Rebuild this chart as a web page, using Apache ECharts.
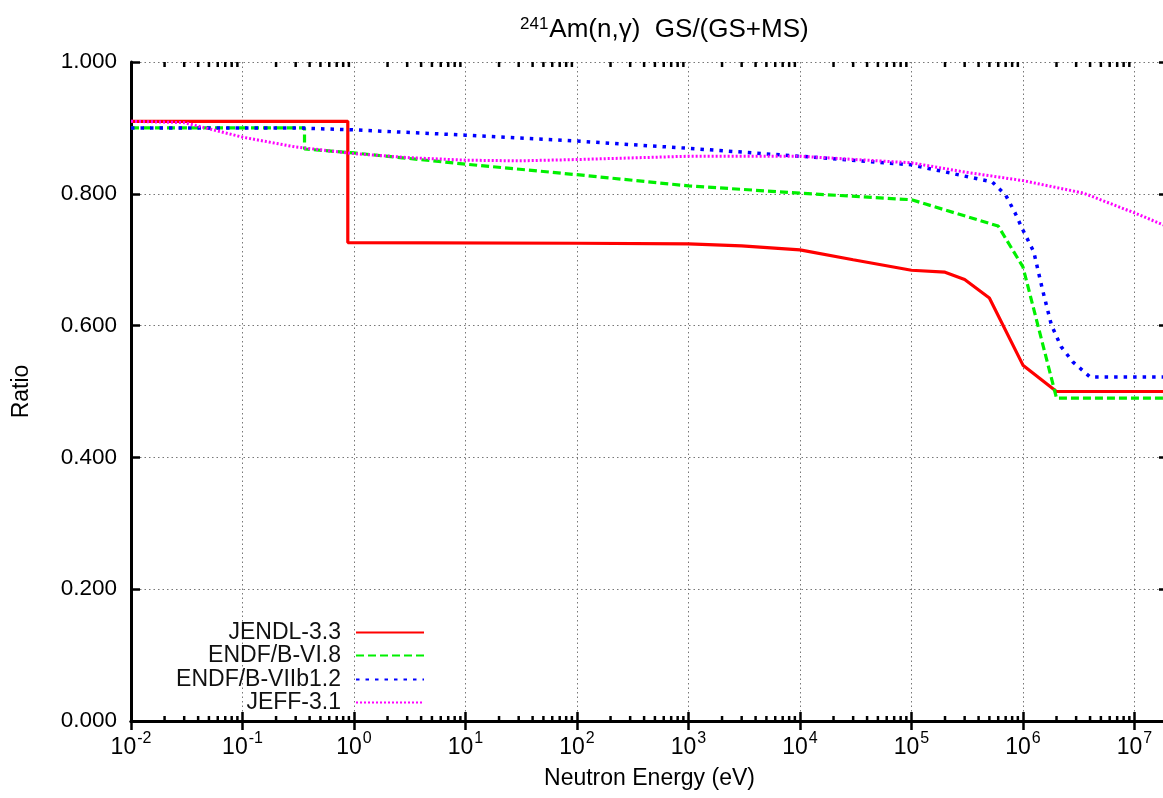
<!DOCTYPE html>
<html>
<head>
<meta charset="utf-8">
<script src="https://cdn.jsdelivr.net/npm/echarts@6.0.0/dist/echarts.min.js"></script>
<style>
html, body { margin: 0; padding: 0; overflow: hidden; background: #fff; }
#chart { width: 1170px; height: 798px; }
</style>
</head>
<body>
<div id="chart"></div>
<script>
// ---- Data ----
const seriesNames = ['JENDL-3.3', 'ENDF/B-VI.8', 'ENDF/B-VIIb1.2', 'JEFF-3.1'];

const jendlE = [0.01, 0.88, 0.88, 100, 1000, 3000, 1e4, 3e4, 1e5, 2e5, 3e5, 5e5, 1e6, 2e6, 2e7];
const jendlR = [0.910, 0.910, 0.726, 0.725, 0.724, 0.721, 0.715, 0.700, 0.684, 0.681, 0.670, 0.642, 0.540, 0.500, 0.500];

const endf6E = [0.01, 0.36, 0.36, 1, 10, 100, 1000, 1e4, 1e5, 6e5, 1e6, 2e6, 2e7];
const endf6R = [0.900, 0.900, 0.868, 0.862, 0.845, 0.829, 0.812, 0.801, 0.791, 0.751, 0.689, 0.490, 0.490];

const endf7E = [0.01, 0.3, 1, 10, 100, 1000, 1e4, 1e5, 5.3e5, 7e5, 8.5e5, 1e6, 1.25e6, 1.5e6, 1.8e6, 2.2e6, 2.8e6, 4e6, 2e7];
const endf7R = [0.900, 0.900, 0.897, 0.889, 0.880, 0.869, 0.857, 0.844, 0.818, 0.798, 0.771, 0.745, 0.712, 0.654, 0.601, 0.568, 0.545, 0.522, 0.522];

const jeffE = [0.01, 0.03, 0.1, 0.3, 1, 3, 10, 30, 100, 1000, 1e4, 1e5, 3e5, 1e6, 3.5e6, 1e7, 2e7];
const jeffR = [0.910, 0.908, 0.886, 0.871, 0.861, 0.855, 0.851, 0.850, 0.852, 0.857, 0.857, 0.847, 0.833, 0.820, 0.801, 0.771, 0.750];

const xMin = 0.01, xMax = 2e7;
const yMin = 0, yMax = 1, yStep = 0.2;

// minor tick positions on the log axis (2..9 x 10^k)
const minorTickE = [];
for (let k = -2; k <= 7; k++) {
  for (let m = 2; m <= 9; m++) {
    const v = m * Math.pow(10, k);
    if (v < xMax) minorTickE.push(v);
  }
}

// ---- Chart ----
const FONT = 'Liberation Sans, Arial, Helvetica, sans-serif';
const chart = echarts.init(document.getElementById('chart'), null, { renderer: 'canvas' });

function zip(xs, ys) { return xs.map((x, i) => [x, ys[i]]); }

const colors = ['#ff0000', '#00f000', '#0000ff', '#ff00ff'];
const lineStyles = [
  { width: 3.2, type: 'solid' },
  { width: 3.2, type: [8, 4] },
  { width: 3.5, type: [3.5, 6] },
  { width: 3, type: [2, 2] }
];
const dataSets = [zip(jendlE, jendlR), zip(endf6E, endf6R), zip(endf7E, endf7R), zip(jeffE, jeffR)];

const lineSeries = seriesNames.map((name, i) => ({
  name: name,
  type: 'line',
  data: dataSets[i],
  symbol: 'none',
  showSymbol: false,
  clip: true,
  color: colors[i],
  lineStyle: Object.assign({ color: colors[i], cap: 'butt' }, lineStyles[i]),
  z: 3 + i
}));

const legendRowCenters = [628, 651, 675, 698];
const legends = seriesNames.map((name, i) => ({
  data: [name],
  orient: 'vertical',
  align: 'right',
  right: 1170 - 425,
  top: legendRowCenters[i] - 7,
  itemWidth: 68,
  itemHeight: 14,
  padding: 0,
  selectedMode: false,
  itemStyle: { opacity: 0 },
  textStyle: { fontSize: 23, fontFamily: FONT, color: '#111', padding: [0, 10, 0, 0] }
}));

const axisBlack = { show: true, lineStyle: { color: '#000', width: 3 } };

const option = {
  animation: false,
  backgroundColor: '#fff',
  title: {
    text: '{s|241}{m|Am(n,γ)  GS/(GS+MS)}',
    left: 515,
    top: 11,
    textStyle: {
      fontWeight: 'normal',
      rich: {
        s: { fontSize: 17, fontWeight: 'normal', fontFamily: FONT, color: '#000', verticalAlign: 'top', padding: [0, 1, 10, 0] },
        m: { fontSize: 26, fontWeight: 'normal', fontFamily: FONT, color: '#000', verticalAlign: 'bottom' }
      }
    }
  },
  legend: legends,
  grid: { left: 131, right: 2, top: 62, bottom: 77, containLabel: false },
  xAxis: [
    {
      type: 'log', logBase: 10, min: xMin, max: xMax,
      position: 'bottom',
      name: 'Neutron Energy (eV)', nameLocation: 'middle', nameGap: 46,
      nameTextStyle: { fontSize: 23, fontFamily: FONT, color: '#000' },
      axisLine: axisBlack,
      axisTick: { show: true, inside: true, length: 9, lineStyle: { color: '#000', width: 2.5 } },
      axisLabel: {
        margin: 10,
        showMaxLabel: false,
        formatter: function (v) {
          const e = Math.round(Math.log10(v));
          return '{b|10}{s|' + e + '}';
        },
        rich: {
          b: { fontSize: 23, fontFamily: FONT, color: '#000', verticalAlign: 'bottom' },
          s: { fontSize: 16, fontFamily: FONT, color: '#000', verticalAlign: 'top', padding: [0, 0, 12, 1] }
        }
      },
      splitLine: { show: true, lineStyle: { color: '#777', width: 1, type: [1.5, 3] } }
    },
    {
      type: 'log', logBase: 10, min: xMin, max: xMax,
      position: 'top',
      axisLine: axisBlack,
      axisTick: { show: true, inside: true, length: 9, lineStyle: { color: '#000', width: 2.5 } },
      axisLabel: { show: false },
      splitLine: { show: false }
    }
  ],
  yAxis: [
    {
      type: 'value', min: yMin, max: yMax, interval: yStep,
      position: 'left',
      name: 'Ratio', nameLocation: 'middle', nameGap: 98, nameRotate: 90,
      nameTextStyle: { fontSize: 23, fontFamily: FONT, color: '#000' },
      axisLine: axisBlack,
      axisTick: { show: true, inside: true, length: 9, lineStyle: { color: '#000', width: 2.5 } },
      axisLabel: {
        margin: 14, fontSize: 22.5, fontFamily: FONT, color: '#000',
        formatter: function (v) { return v.toFixed(3); }
      },
      splitLine: { show: true, lineStyle: { color: '#777', width: 1, type: [1.5, 3] } }
    },
    {
      type: 'value', min: yMin, max: yMax, interval: yStep,
      position: 'right',
      axisLine: axisBlack,
      axisTick: { show: true, inside: true, length: 9, lineStyle: { color: '#000', width: 2.5 } },
      axisLabel: { show: false },
      splitLine: { show: false }
    }
  ],
  series: lineSeries.concat([
    {
      name: 'minorTicks',
      type: 'custom',
      xAxisIndex: 0,
      yAxisIndex: 0,
      silent: true,
      clip: false,
      z: 10,
      data: minorTickE.map(v => [v, yMin]),
      renderItem: function (params, api) {
        const v = api.value(0);
        const pb = api.coord([v, yMin]);
        const pt = api.coord([v, yMax]);
        const st = { stroke: '#000', lineWidth: 2.5 };
        return {
          type: 'group',
          children: [
            { type: 'line', shape: { x1: pb[0], y1: pb[1], x2: pb[0], y2: pb[1] - 5 }, style: st },
            { type: 'line', shape: { x1: pt[0], y1: pt[1], x2: pt[0], y2: pt[1] + 5 }, style: st }
          ]
        };
      }
    }
  ])
};

chart.setOption(option);
</script>
</body>
</html>
